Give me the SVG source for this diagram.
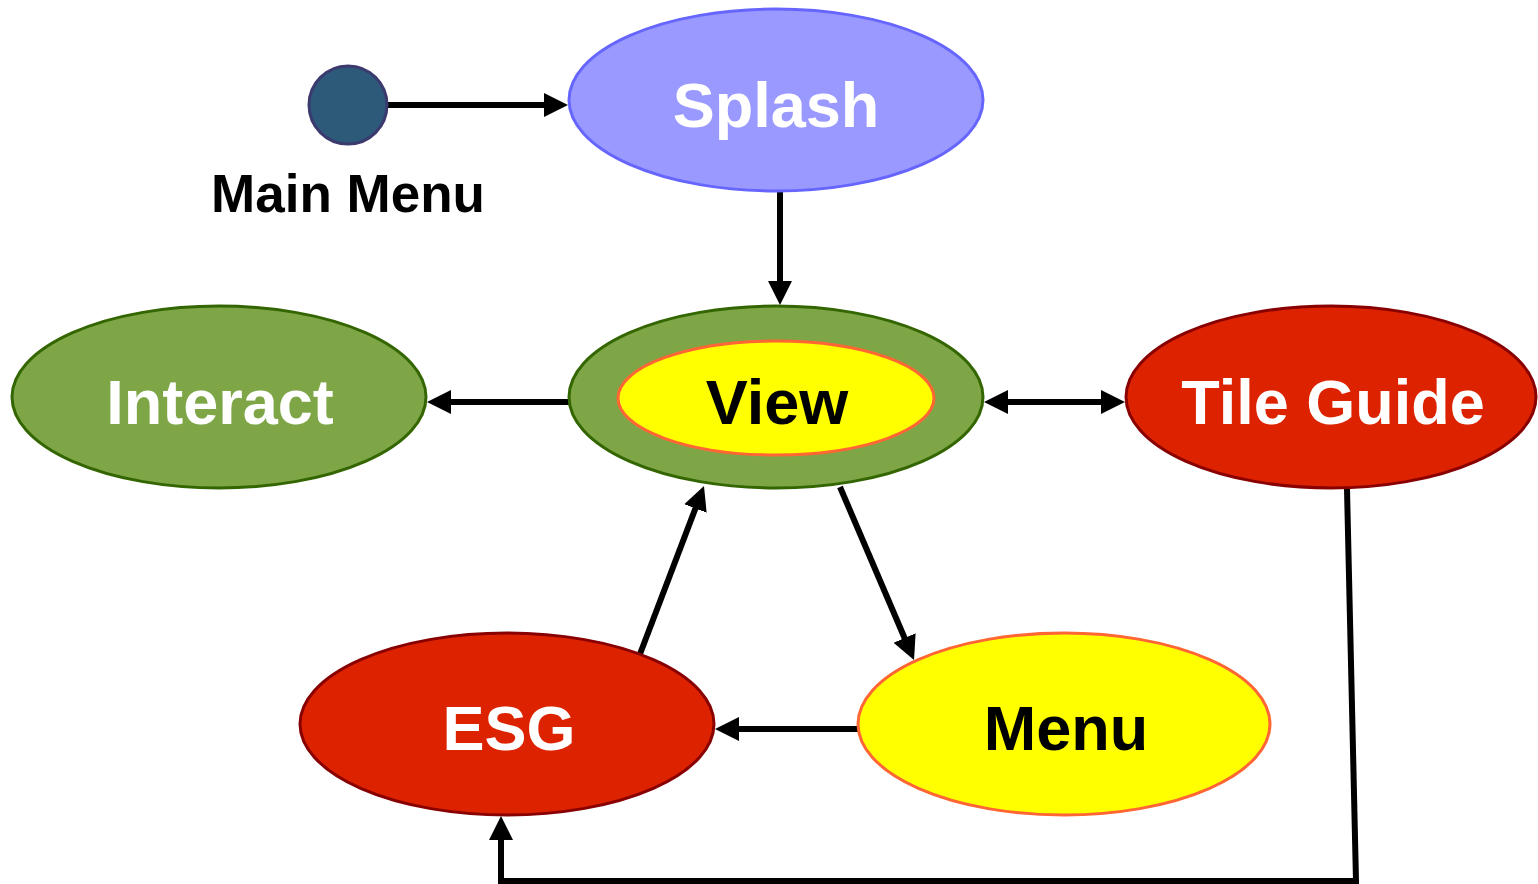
<svg xmlns="http://www.w3.org/2000/svg" width="1538" height="884" viewBox="0 0 1538 884">
<style>
.lbl{font-family:"Liberation Sans",Arial,sans-serif;font-weight:bold;font-size:63px;text-anchor:middle}
.w{fill:#ffffff}.k{fill:#000000}
.edge{fill:none;stroke:#000;stroke-width:6}
.green{fill:#7ea646;stroke:#336600;stroke-width:3}
.red{fill:#dd2200;stroke:#880000;stroke-width:3}
.yel{fill:#ffff00;stroke:#ff6633;stroke-width:3}
</style>
<defs>
<marker id="ah" markerUnits="userSpaceOnUse" markerWidth="26" markerHeight="26" viewBox="0 0 26 26" refX="12" refY="13" orient="auto-start-reverse">
<path d="M0,1 L24,13 L0,25 Z" fill="#000"/>
</marker>
</defs>
<rect width="1538" height="884" fill="#fff"/>
<g id="connectors">
<line class="edge" x1="387" y1="105" x2="556" y2="105" marker-end="url(#ah)"/>
<line class="edge" x1="780" y1="191" x2="780" y2="293" marker-end="url(#ah)"/>
<line class="edge" x1="569" y1="402" x2="439" y2="402" marker-end="url(#ah)"/>
<line class="edge" x1="996" y1="402" x2="1113" y2="402" marker-start="url(#ah)" marker-end="url(#ah)"/>
<line class="edge" x1="840" y1="487" x2="909.3" y2="649" marker-end="url(#ah)"/>
<line class="edge" x1="640" y1="654" x2="699.7" y2="497.2" marker-end="url(#ah)"/>
<line class="edge" x1="858" y1="729" x2="727" y2="729" marker-end="url(#ah)"/>
<polyline class="edge" points="1347,489 1356,881 501,881 501,828" marker-end="url(#ah)"/>
</g>
<g id="start">
<circle cx="348" cy="105" r="39" fill="#2e5a7a" stroke="#3a3a6e" stroke-width="3"/>
<text x="348" y="212" class="lbl k" style="font-size:53px">Main Menu</text>
</g>
<g id="splash">
<ellipse cx="776" cy="100" rx="207" ry="91" fill="#9999ff" stroke="#6666ff" stroke-width="3"/>
<text x="776" y="127" class="lbl w">Splash</text>
</g>
<g id="view">
<ellipse cx="776" cy="397" rx="207" ry="91" class="green"/>
<ellipse cx="776" cy="398" rx="158" ry="57" class="yel"/>
<text x="777" y="424" class="lbl k">View</text>
</g>
<g id="interact">
<ellipse cx="219" cy="397" rx="207" ry="91" class="green"/>
<text x="220" y="424" class="lbl w">Interact</text>
</g>
<g id="tileguide">
<ellipse cx="1331" cy="397" rx="205" ry="91" class="red"/>
<text x="1333" y="424" class="lbl w">Tile Guide</text>
</g>
<g id="menu">
<ellipse cx="1064" cy="724" rx="206" ry="91" class="yel"/>
<text x="1066" y="750" class="lbl k">Menu</text>
</g>
<g id="esg">
<ellipse cx="507" cy="724" rx="207" ry="91" class="red"/>
<text x="509" y="750" class="lbl w">ESG</text>
</g>
</svg>
